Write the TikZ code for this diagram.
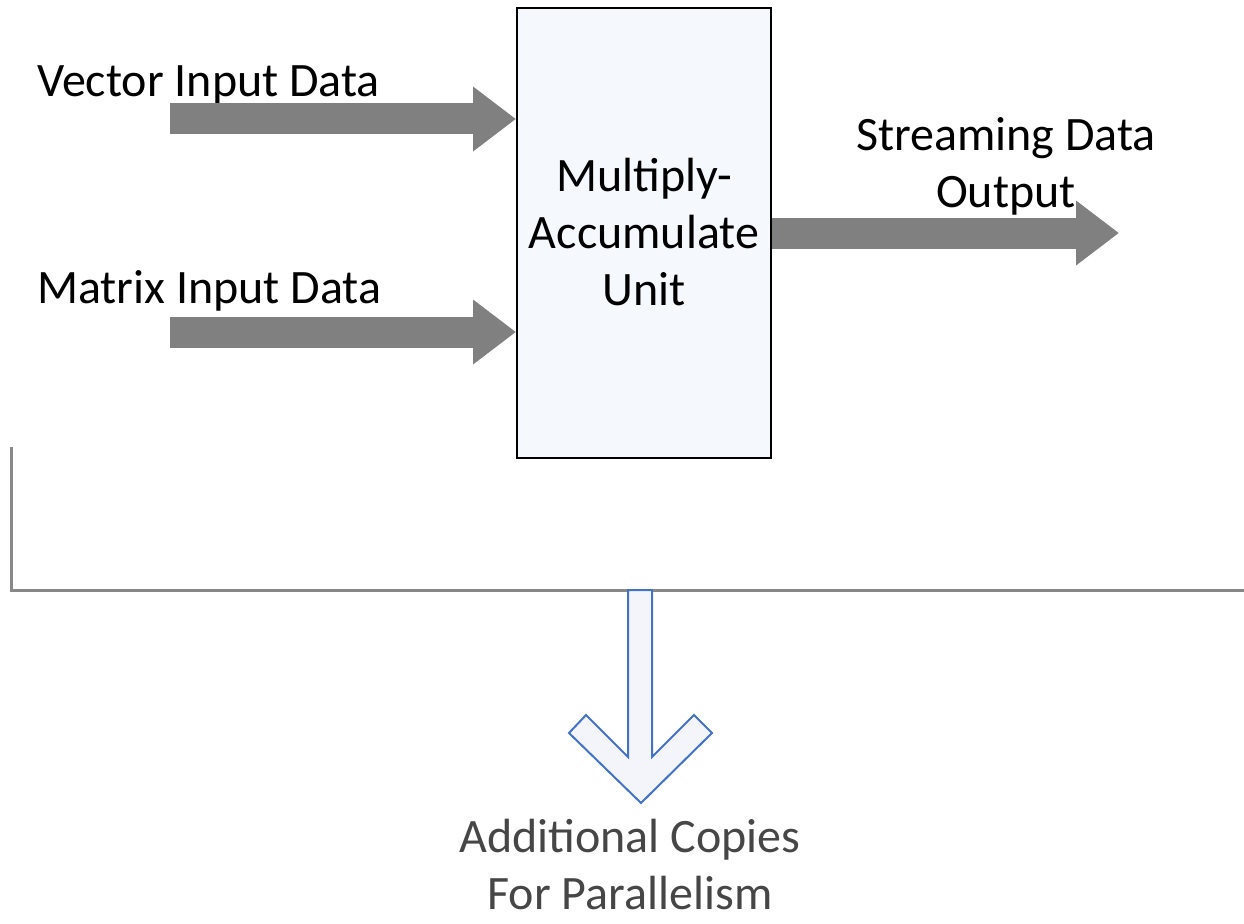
\documentclass[tikz,border=0pt]{standalone}
\usepackage{fontspec}
\setmainfont{Carlito}
\usetikzlibrary{arrows.meta}
\definecolor{fatgray}{RGB}{128,128,128}
\definecolor{linegray}{RGB}{136,136,136}
\definecolor{copyblue}{RGB}{68,114,196}
\definecolor{copytext}{RGB}{70,70,70}
\begin{document}
\begin{tikzpicture}[x=1pt,y=-1pt,
    lbl/.style={font=\fontsize{48}{57}\selectfont,inner sep=0pt},
    fatarrow/.style={fatgray,line width=31pt,-{Triangle[length=43pt,width=62pt]}}]
    \useasboundingbox (0,0) rectangle (1244,923);
    \node[draw=black,line width=2pt,fill={rgb,255:red,245;green,248;blue,252},
      minimum width=254pt,minimum height=450pt,inner sep=0pt] (mac) at (644,233) {};
    \node[lbl,align=center,anchor=base] (macname) at (644,305) {Multiply-\\Accumulate\\Unit};
    \node[lbl,anchor=base west] (vecin) at (37,97) {Vector Input Data};
    \node[lbl,anchor=base west] (matin) at (37,303) {Matrix Input Data};
    \node[lbl,align=center,anchor=base] (strout) at (1006,207) {Streaming Data\\Output};
    \coordinate (vecstart) at (170,119);
    \coordinate (matstart) at (170,332);
    \coordinate (outend) at (1119,233);
    \draw[fatarrow] (vecstart) -- (vecstart -| mac.west);
    \draw[fatarrow] (matstart) -- (matstart -| mac.west);
    \draw[fatarrow] (mac.east |- outend) -- (outend);
    % bracket round the unit
    \coordinate (brtop) at (11,447);
    \coordinate (brcorner) at (11,590);
    \coordinate (brend) at (1244,590);
    \draw[linegray,line width=3pt] (brtop) -- (brcorner) -- (brend);
    \draw[copyblue,line width=2pt,line join=miter,fill={rgb,255:red,243;green,245;blue,251}]
      (628,590) -- (652,590) -- (652,757) -- (694,715) -- (712,733) -- (641,803)
      -- (569,733) -- (586,715) -- (628,757) -- cycle;
    \node[lbl,align=center,anchor=base,text=copytext,text depth=0pt] (copies) at (630,909)
      {Additional Copies\\For Parallelism};
  \end{tikzpicture}
\end{document}
